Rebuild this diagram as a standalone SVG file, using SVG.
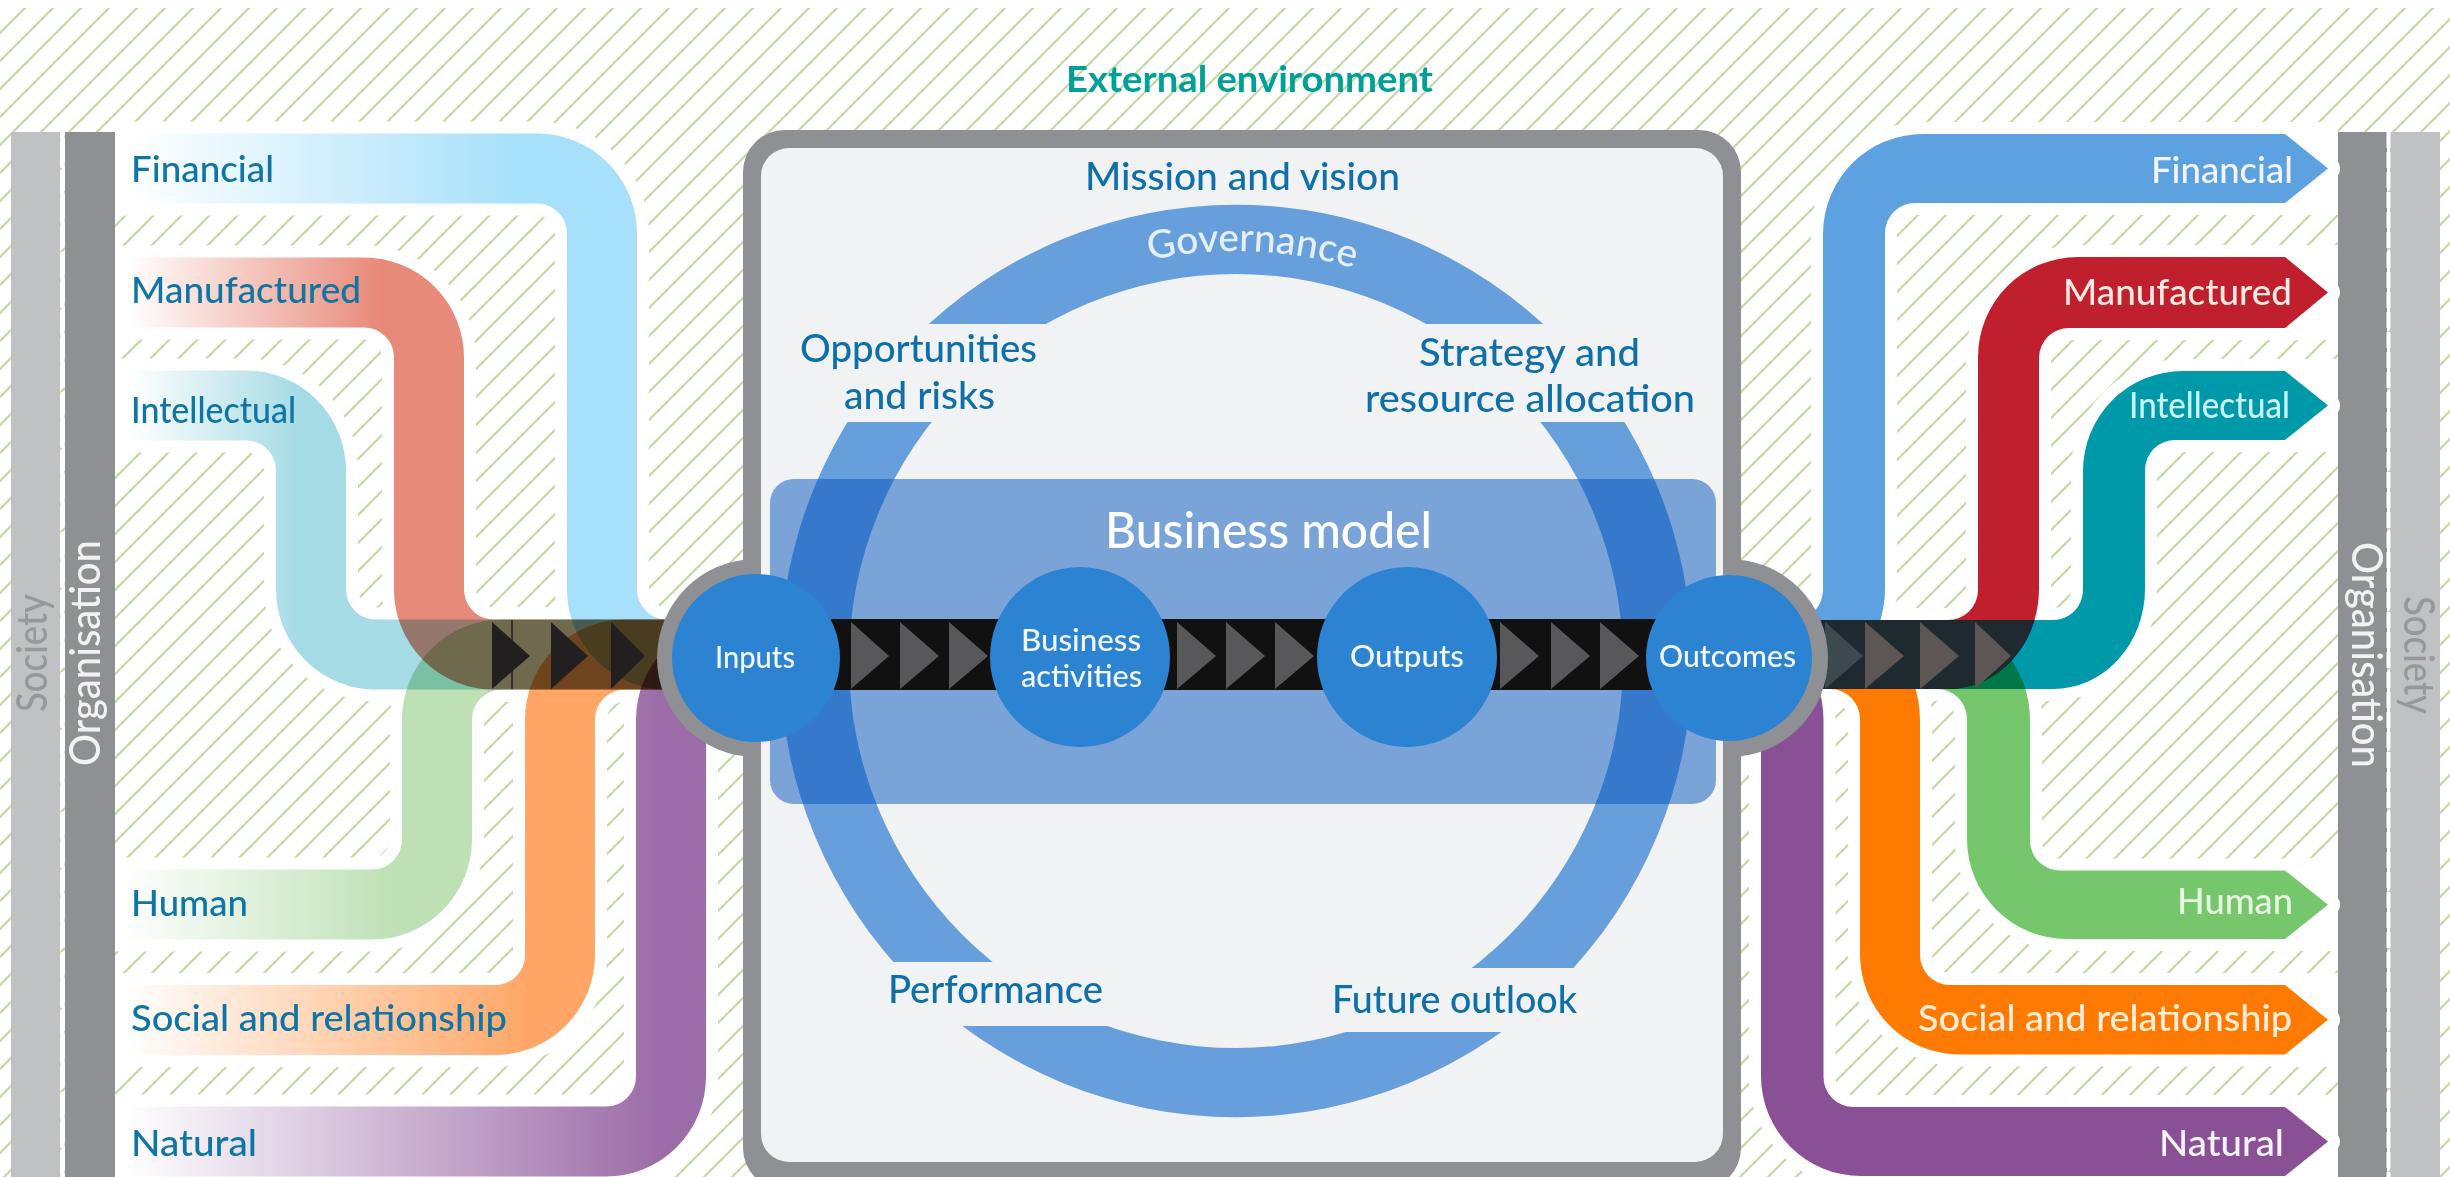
<svg xmlns="http://www.w3.org/2000/svg" width="2450" height="1177" viewBox="0 0 2450 1177">
<style>
text{font-family:"Lato","Liberation Sans",sans-serif;font-weight:500}
.lbl{font-size:37px;fill:#0f75a5}
.rl{font-size:37px;fill:#f2f6fa;text-anchor:end}
.mid{font-size:38px;fill:#0f6fa8}
.node{font-size:31px;fill:#f2f7fc}
.circ{fill:#2b83d2}
.tri{fill:#58585a}
.ltri{fill:#231f20}
.case{fill:none;stroke:#fff;stroke-width:94}
.rcase{fill:#fff;stroke:#fff;stroke-width:24;stroke-linejoin:round}
.band{fill:none;stroke-width:70;mix-blend-mode:multiply}
.rband{mix-blend-mode:multiply}
</style>
<defs>
<pattern id="hatch" patternUnits="userSpaceOnUse" width="28" height="28" patternTransform="translate(5 0)">
<path d="M-2,2L2,-2M0,28L28,0M26,30L30,26" stroke="#c6dbab" stroke-width="2.3" fill="none"/>
</pattern>
<linearGradient id="gFin" gradientUnits="userSpaceOnUse" x1="130" y1="0" x2="520" y2="0"><stop offset="0" stop-color="#fff"/><stop offset="1" stop-color="#a6e0fa"/></linearGradient>
<linearGradient id="gMfr" gradientUnits="userSpaceOnUse" x1="130" y1="0" x2="380" y2="0"><stop offset="0" stop-color="#fff"/><stop offset="1" stop-color="#e88a7a"/></linearGradient>
<linearGradient id="gInt" gradientUnits="userSpaceOnUse" x1="130" y1="0" x2="300" y2="0"><stop offset="0" stop-color="#fff"/><stop offset="1" stop-color="#a5dbe5"/></linearGradient>
<linearGradient id="gHum" gradientUnits="userSpaceOnUse" x1="120" y1="0" x2="400" y2="0"><stop offset="0" stop-color="#fff"/><stop offset="1" stop-color="#bde0b5"/></linearGradient>
<linearGradient id="gSoc" gradientUnits="userSpaceOnUse" x1="125" y1="0" x2="530" y2="0"><stop offset="0" stop-color="#fff"/><stop offset="1" stop-color="#ffa666"/></linearGradient>
<linearGradient id="gNat" gradientUnits="userSpaceOnUse" x1="125" y1="0" x2="660" y2="0"><stop offset="0" stop-color="#fff"/><stop offset="1" stop-color="#9c6ca8"/></linearGradient>
<path id="lFin" d="M115,168.5H537A65,65 0 0 1 602,233.5V589A65,65 0 0 0 667,654.5H720"/>
<path id="lMfr" d="M115,292.5H364A65,65 0 0 1 429,357.5V589A65,65 0 0 0 494,654.5H720"/>
<path id="lInt" d="M115,405.5H246A65,65 0 0 1 311,470.5V589A65,65 0 0 0 376,654.5H720"/>
<path id="lHum" d="M115,904.5H372A65,65 0 0 0 437,839.5V719A65,65 0 0 1 502,654.5H720"/>
<path id="lSoc" d="M115,1020H495A65,65 0 0 0 560,955V719A65,65 0 0 1 625,654.5H720"/>
<path id="lNat" d="M115,1141.5H606A65,65 0 0 0 671,1076.5V719A65,65 0 0 1 736,654.5H760"/>
<path id="rFin" d="M1740,620H1793A30,30 0 0 0 1823,590V234A100,100 0 0 1 1923,134H2285L2328,168.5L2285,203H1915A30,30 0 0 0 1885,233V589A92,100 0 0 1 1793,689H1740Z"/>
<path id="rMfr" d="M1740,620H1948A30,30 0 0 0 1978,590V357A100,100 0 0 1 2078,257H2285L2328,292.5L2285,328H2069A30,30 0 0 0 2039,358V589A91,100 0 0 1 1948,689H1740Z"/>
<path id="rInt" d="M1740,620H2053A30,30 0 0 0 2083,590V471A100,100 0 0 1 2183,371H2285L2328,405.5L2285,440H2175A30,30 0 0 0 2145,470V589A92,100 0 0 1 2053,689H1740Z"/>
<path id="rHum" d="M1740,689H1937A30,30 0 0 1 1967,719V839A100,100 0 0 0 2067,939H2285L2328,904.75L2285,870.5H2060A30,30 0 0 1 2030,840.5V720A93,100 0 0 0 1937,620H1740Z"/>
<path id="rSoc" d="M1740,689H1830A30,30 0 0 1 1860,719V954.5A100,100 0 0 0 1960,1054.5H2285L2328,1019.75L2285,985H1950A30,30 0 0 1 1920,955V720A90,100 0 0 0 1830,620H1740Z"/>
<path id="rNat" d="M1700,689H1731A30,30 0 0 1 1761,719V1076A100,100 0 0 0 1861,1176H2285L2328,1141.5L2285,1107H1853.5A30,30 0 0 1 1823.5,1077V720A92.5,100 0 0 0 1731,620H1700Z"/>
<clipPath id="ringClip">
<rect x="700" y="150" width="1100" height="174"/>
<rect x="700" y="422" width="536" height="540"/>
<rect x="1236" y="422" width="564" height="546"/>
<rect x="700" y="1026" width="536" height="120"/>
<rect x="1236" y="1032" width="564" height="120"/>
</clipPath>
<path id="govArc" d="M826,661A410,410 0 0 1 1646,661"/>
</defs>

<rect width="2450" height="1177" fill="#fff"/>
<rect y="8" width="2450" height="1169" fill="url(#hatch)"/>
<text x="1066" y="92" textLength="367" lengthAdjust="spacingAndGlyphs" style="font-size:36px;font-weight:700;fill:#00a096">External environment</text>

<g id="society-left">
<rect x="11" y="132" width="49" height="1045" fill="#c0c1c3"/>
<text transform="translate(47 712) rotate(-90)" textLength="118" lengthAdjust="spacingAndGlyphs" style="font-size:42px;fill:#97989b">Society</text>
</g>
<g id="organisation-left">
<rect x="65" y="132" width="50" height="1045" fill="#8f9093"/>
<text transform="translate(100 766) rotate(-90)" textLength="226" lengthAdjust="spacingAndGlyphs" style="font-size:43px;fill:#f2f2f3">Organisation</text>
</g>
<g id="organisation-right">
<rect x="2338" y="132" width="49" height="1045" fill="#8f9093"/>
<text transform="translate(2352 542) rotate(90)" textLength="226" lengthAdjust="spacingAndGlyphs" style="font-size:43px;fill:#f2f2f3">Organisation</text>
</g>
<g id="society-right">
<rect x="2390" y="132" width="50" height="1045" fill="#c0c1c3"/>
<text transform="translate(2404 596) rotate(90)" textLength="118" lengthAdjust="spacingAndGlyphs" style="font-size:42px;fill:#97989b">Society</text>
</g>
<path d="M62.5,132V1177M2388.5,132V1177" stroke="#fff" stroke-width="4" stroke-dasharray="16 4" fill="none"/>

<g id="connectors">
<g id="casings">
<use href="#lFin" class="case"/><use href="#lMfr" class="case"/><use href="#lInt" class="case"/><use href="#lHum" class="case"/><use href="#lSoc" class="case"/><use href="#lNat" class="case"/>
<use href="#rFin" class="rcase"/><use href="#rMfr" class="rcase"/><use href="#rInt" class="rcase"/><use href="#rHum" class="rcase"/><use href="#rSoc" class="rcase"/><use href="#rNat" class="rcase"/>
<path fill="#fff" d="M2285,122H2338V215H2285ZM2285,245H2338V340H2285ZM2285,359H2338V452H2285ZM2285,858H2338V951H2285ZM2285,973H2338V1067H2285ZM2285,1095H2338V1177H2285Z"/>
</g>
<use href="#lFin" class="band" stroke="url(#gFin)"/>
<use href="#lMfr" class="band" stroke="url(#gMfr)"/>
<use href="#lInt" class="band" stroke="url(#gInt)"/>
<use href="#lHum" class="band" stroke="url(#gHum)"/>
<use href="#lSoc" class="band" stroke="url(#gSoc)"/>
<use href="#lNat" class="band" stroke="url(#gNat)"/>
<use href="#rFin" class="rband" fill="#5ea1e0"/>
<use href="#rMfr" class="rband" fill="#c01f2e"/>
<use href="#rInt" class="rband" fill="#0099aa"/>
<use href="#rHum" class="rband" fill="#76c66c"/>
<use href="#rSoc" class="rband" fill="#ff7a00"/>
<use href="#rNat" class="rband" fill="#8a5096"/>
<g id="flow-left">
<path class="ltri" d="M492,622L530,656L492,689ZM551,622L588,656L551,689ZM611,622L645,656L611,689Z"/>
<path d="M512,620V689" stroke="#231f20" stroke-width="1.5"/>
</g>
<g id="flow-right">
<path fill="#1e2a30" d="M1800,620H2034.5A91,100 0 0 1 1948,689H1800Z"/>
<path fill="#3c4a4e" d="M1825,622L1863,656L1825,689Z"/>
<path fill="#5c5654" d="M1865,622L1904,656L1865,689ZM1920,622L1959,656L1920,689ZM1975,622L2011,656L1975,689Z"/>
</g>
</g>

<g id="labels-left">
<text class="lbl" x="131" y="182" textLength="143" lengthAdjust="spacingAndGlyphs">Financial</text>
<text class="lbl" x="131" y="303" textLength="230" lengthAdjust="spacingAndGlyphs">Manufactured</text>
<text class="lbl" x="131" y="423" textLength="165" lengthAdjust="spacingAndGlyphs">Intellectual</text>
<text class="lbl" x="131" y="916" textLength="117" lengthAdjust="spacingAndGlyphs">Human</text>
<text class="lbl" x="131" y="1031" textLength="376" lengthAdjust="spacingAndGlyphs">Social and relationship</text>
<text class="lbl" x="131" y="1156" textLength="126" lengthAdjust="spacingAndGlyphs">Natural</text>
</g>
<g id="labels-right">
<text class="rl" x="2293" y="183" textLength="142" lengthAdjust="spacingAndGlyphs">Financial</text>
<text class="rl" x="2292" y="305" textLength="229" lengthAdjust="spacingAndGlyphs" style="fill:#fbe9e4">Manufactured</text>
<text class="rl" x="2290" y="418" textLength="161" lengthAdjust="spacingAndGlyphs" style="fill:#c9f3f4">Intellectual</text>
<text class="rl" x="2293" y="914" textLength="116" lengthAdjust="spacingAndGlyphs" style="fill:#e6f6e0">Human</text>
<text class="rl" x="2292" y="1031" textLength="374" lengthAdjust="spacingAndGlyphs" style="fill:#ffeeda">Social and relationship</text>
<text class="rl" x="2284" y="1156" textLength="125" lengthAdjust="spacingAndGlyphs">Natural</text>
</g>

<g id="ring-inputs"><circle cx="756" cy="658" r="99" fill="#8e9093"/></g>
<g id="ring-outcomes"><circle cx="1729" cy="658" r="99" fill="#8e9093"/></g>

<g id="organisation-box">
<rect x="743" y="130" width="998" height="1060" rx="42" fill="#8e9093"/>
<rect x="761" y="148" width="962" height="1014" rx="28" fill="#f0f2f3"/>
<path clip-path="url(#ringClip)" fill="#669fdc" fill-rule="evenodd" d="M780,661a456,456 0 1 0 912,0a456,456 0 1 0 -912,0ZM849,661a387,387 0 1 0 774,0a387,387 0 1 0 -774,0Z"/>
<text style="font-size:39px;fill:#e6eff8" text-anchor="middle"><textPath href="#govArc" startOffset="660">Governance</textPath></text>
<text class="mid" x="1085" y="190" textLength="315" lengthAdjust="spacingAndGlyphs">Mission and vision</text>
<text class="mid" x="800" y="362" textLength="237" lengthAdjust="spacingAndGlyphs">Opportunities</text>
<text class="mid" x="844" y="409" textLength="151" lengthAdjust="spacingAndGlyphs">and risks</text>
<text class="mid" x="1419" y="366" textLength="221" lengthAdjust="spacingAndGlyphs">Strategy and</text>
<text class="mid" x="1365" y="412" textLength="330" lengthAdjust="spacingAndGlyphs">resource allocation</text>
<text class="mid" x="888" y="1003" textLength="215" lengthAdjust="spacingAndGlyphs">Performance</text>
<text class="mid" x="1332" y="1013" textLength="245" lengthAdjust="spacingAndGlyphs">Future outlook</text>
</g>

<g id="business-model">
<rect x="770" y="479" width="946" height="325" rx="24" fill="#0454be" fill-opacity="0.5"/>
<text x="1105" y="548" textLength="327" lengthAdjust="spacingAndGlyphs" style="font-size:50px;fill:#fff">Business model</text>
<rect x="830" y="619" width="830" height="71" fill="#111"/>
<path class="tri" d="M851,622L889,656L851,689ZM900,622L939,656L900,689ZM949,622L988,656L949,689ZM1177,622L1216,656L1177,689ZM1226,622L1265,656L1226,689ZM1275,622L1314,656L1275,689ZM1500,622L1539,656L1500,689ZM1551,622L1590,656L1551,689ZM1600,622L1639,656L1600,689Z"/>
</g>

<g id="inputs"><circle class="circ" cx="756" cy="658" r="84"/><text class="node" x="715" y="668" textLength="80" lengthAdjust="spacingAndGlyphs">Inputs</text></g>
<g id="business-activities"><circle class="circ" cx="1080" cy="657" r="90"/><text class="node" x="1021" y="651" textLength="120" lengthAdjust="spacingAndGlyphs">Business</text><text class="node" x="1021" y="687" textLength="121" lengthAdjust="spacingAndGlyphs">activities</text></g>
<g id="outputs"><circle class="circ" cx="1407" cy="657" r="90"/><text class="node" x="1350" y="667" textLength="114" lengthAdjust="spacingAndGlyphs">Outputs</text></g>
<g id="outcomes"><circle class="circ" cx="1729" cy="658" r="83"/><text class="node" x="1659" y="667" textLength="137" lengthAdjust="spacingAndGlyphs">Outcomes</text></g>
</svg>
